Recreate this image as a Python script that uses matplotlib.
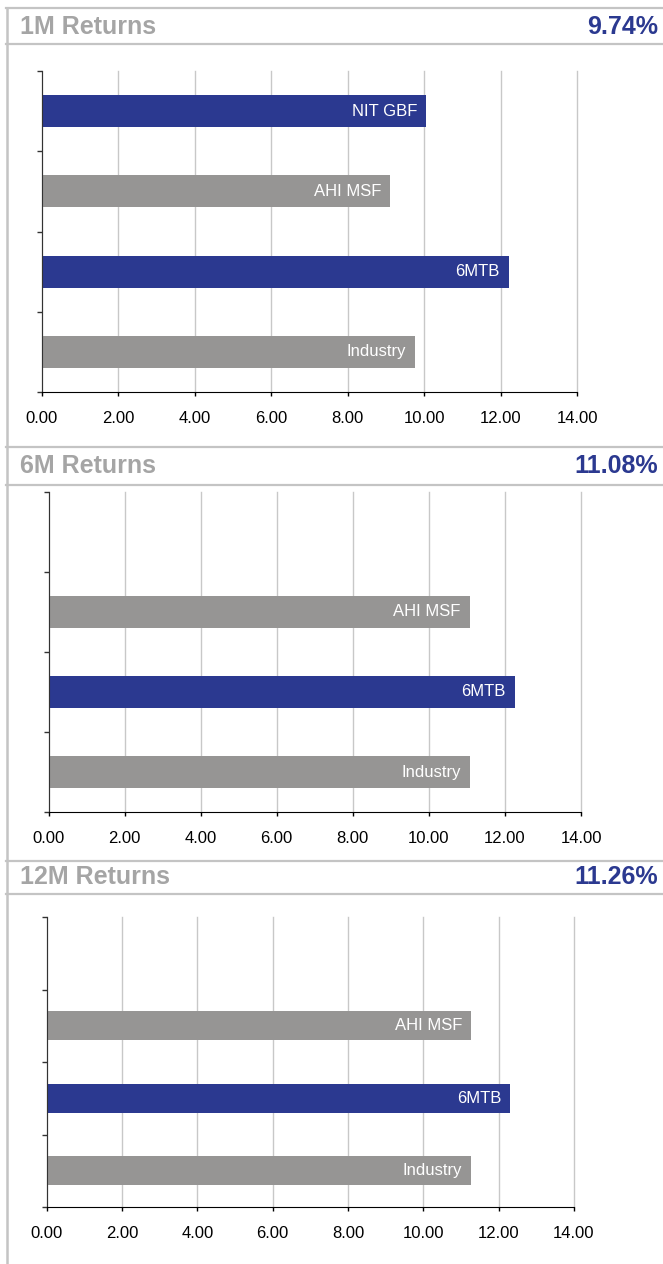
import numpy as np
import matplotlib
matplotlib.use("Agg")
import matplotlib.pyplot as plt
from matplotlib.lines import Line2D

plt.rcParams['font.family'] = ['Liberation Sans', 'DejaVu Sans']

# data
categories = ["NIT GBF", "AHI MSF", "6MTB", "Industry"]
ret_1m = [10.05, 9.11, 12.22, 9.77]
ret_6m = [np.nan, 11.07, 12.26, 11.07]
ret_12m = [np.nan, 11.27, 12.31, 11.27]
panel_titles = ["1M Returns", "6M Returns", "12M Returns"]
panel_values = ["9.74%", "11.08%", "11.26%"]
x_ticks = [0, 2, 4, 6, 8, 10, 12, 14]

BLUE = "#2b3990"
GRAY = "#969594"
TITLE_GRAY = "#a5a5a5"
LINE_GRAY = "#c4c4c4"
bar_colors = [BLUE, GRAY, BLUE, GRAY]

W, H = 663, 1264
fig = plt.figure(figsize=(W / 100, H / 100), dpi=100)


def fx(px):
    return px / W


def fy(py):
    return 1 - py / H


def hline(y, x0=6, x1=W):
    fig.add_artist(Line2D([fx(x0), fx(x1)], [fy(y), fy(y)], color=LINE_GRAY, lw=1.6))


# frame: left border, top line and header separators
fig.add_artist(Line2D([fx(6.5), fx(6.5)], [fy(8), fy(H)], color=LINE_GRAY, lw=1.8))
for y in [8, 44, 447, 485, 861, 894]:
    hline(y)

# header texts
header_y = [27.5, 466, 877]
for title, val, y in zip(panel_titles, panel_values, header_y):
    fig.text(fx(20), fy(y), title, fontsize=18, fontweight='bold', color=TITLE_GRAY,
             ha='left', va='center')
    fig.text(fx(658), fy(y), val, fontsize=18, fontweight='bold', color=BLUE,
             ha='right', va='center')

# axes boxes in pixels: left, right, top, bottom
boxes = [(42, 577, 71, 392), (48.5, 581, 492, 812), (46.8, 574, 917, 1207)]
series = [ret_1m, ret_6m, ret_12m]

for (l, r, t, b), vals in zip(boxes, series):
    ax = fig.add_axes([fx(l), fy(b), (r - l) / W, (b - t) / H])
    y = np.arange(len(categories)) + 0.5
    ax.barh(y, vals, height=0.4, color=bar_colors, zorder=2)
    for yi, v, name in zip(y, vals, categories):
        if np.isnan(v):
            continue
        ax.annotate(name, (v, yi), xytext=(-6.5, 0), textcoords='offset points',
                    ha='right', va='center', color='white', fontsize=12, zorder=3)
    ax.set_xlim(0, 14)
    ax.set_ylim(len(categories), 0)
    ax.set_xticks(x_ticks)
    ax.set_xticklabels([f"{v:.2f}" for v in x_ticks])
    ax.set_yticks(np.arange(len(categories) + 1))
    ax.set_yticklabels([])
    ax.xaxis.grid(True, color="#c8c8c8", lw=1, zorder=0)
    for gl in ax.get_xgridlines():
        gl.set_clip_on(False)
    ax.set_axisbelow(True)
    for s in ['top', 'right']:
        ax.spines[s].set_visible(False)
    ax.spines['left'].set_color('#333333')
    ax.spines['bottom'].set_color('black')
    ax.tick_params(axis='x', length=3, width=1, pad=10.5, labelsize=12, color='black')
    ax.tick_params(axis='y', length=3.5, width=1, color='#333333')
    ax.patch.set_alpha(0)

fig.savefig("out.png", dpi=100)
